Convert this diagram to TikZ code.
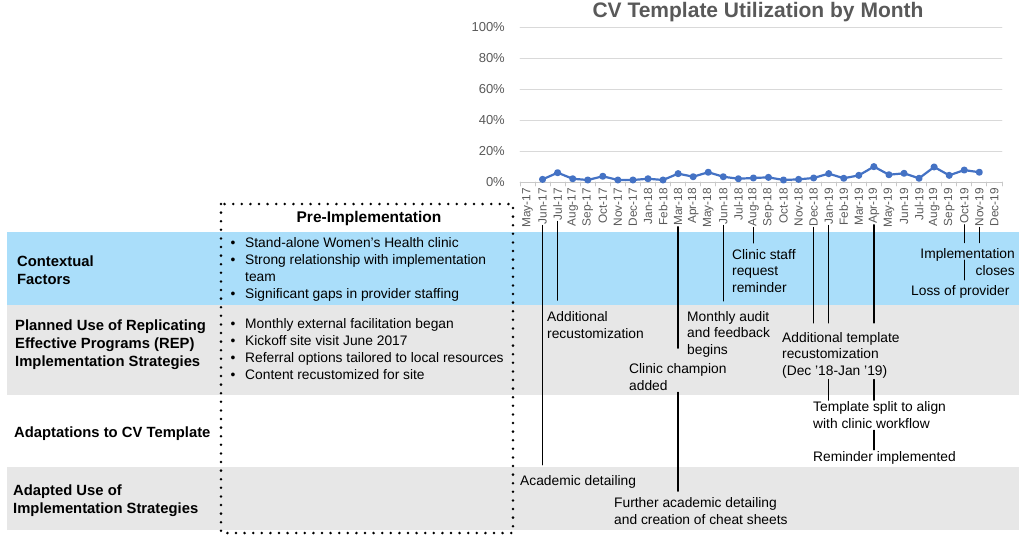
\documentclass[tikz,border=0pt]{standalone}
\usepackage{fontspec}
\setmainfont{Liberation Sans}
\usetikzlibrary{positioning}
\definecolor{bandblue}{RGB}{170,222,250}
\definecolor{bandgray}{RGB}{231,231,231}
\definecolor{axisgray}{RGB}{89,89,89}
\definecolor{gridgray}{RGB}{217,217,217}
\definecolor{tickgray}{RGB}{200,200,200}
\definecolor{lineblue}{RGB}{68,114,196}
\newcommand{\notefont}{\fontsize{13.8}{16.7}\selectfont}
\newcommand{\rowfont}{\fontsize{14.8}{17.9}\selectfont\bfseries}

\begin{document}
\begin{tikzpicture}[x=1pt,y=-1pt,line cap=round,line join=round,
	rowlbl/.style={anchor=base west,align=left,inner sep=0pt,font=\rowfont},
	note/.style={anchor=base west,align=left,inner sep=1pt,font=\notefont},
	bullets/.style={anchor=base west,align=left,inner sep=0pt,font=\notefont},
	month/.style={rotate=90,anchor=east,inner sep=1pt,text=axisgray,font=\fontsize{11.8}{12}\selectfont},
	pct/.style={anchor=east,inner sep=0pt,text=axisgray,font=\fontsize{13}{14}\selectfont},
	leader/.style={line width=1.3pt},
	dotbox/.style={line width=2.8pt,dash pattern=on 0pt off 8.6pt,line cap=round}]
		\useasboundingbox (0,0) rectangle (1021,539);
		%%%%%%%%%%%%%%% B A N D S %%%%%%%%%%%%%%%%
		\fill [bandblue] (7,232) rectangle (1019,305);
		\fill [bandgray] (7,305) rectangle (1019,395);
		\fill [bandgray] (7,467) rectangle (1019,530);
		%%%%%%%%%%%%%%% C H A R T %%%%%%%%%%%%%%%%
		\node [font=\fontsize{21}{24}\selectfont\bfseries,text=axisgray] (title) at (758,12) {CV Template Utilization by Month};
		%grid and axis
		\foreach \p in {20,40,60,80,100}
			\draw [gridgray,line width=0.8pt] (520,{182-1.55*\p}) -- (1002,{182-1.55*\p});
		\foreach \p in {0,20,40,60,80,100}
			\node [pct] (p\p) at (505,{182-1.55*\p}) {\p\%};
		\draw [tickgray,line width=0.9pt] (520,182) -- (1002,182);
		\foreach \k in {0,...,32}
			\draw [tickgray,line width=0.8pt] ({520+15.06*\k},182) -- ++(0,4);
		%months
		\foreach \mon [count=\i from 0] in {May-17,Jun-17,Jul-17,Aug-17,Sep-17,Oct-17,Nov-17,Dec-17,
			Jan-18,Feb-18,Mar-18,Apr-18,May-18,Jun-18,Jul-18,Aug-18,Sep-18,Oct-18,Nov-18,Dec-18,
			Jan-19,Feb-19,Mar-19,Apr-19,May-19,Jun-19,Jul-19,Aug-19,Sep-19,Oct-19,Nov-19,Dec-19}
			\node [month] (m\i) at ({527.5+15.06*\i},187) {\mon};
		%utilization
		\begin{scope}[shift={(527.5,182)},x=15.06pt,y=1.55pt]
			\draw [lineblue,line width=2.2pt] plot [mark=*,mark size=2.4pt,mark options={fill=lineblue}] coordinates {
				(1,1.7) (2,6.0) (3,2.1) (4,1.3) (5,3.7) (6,1.3) (7,1.3) (8,2.1) (9,1.3) (10,5.4)
				(11,3.4) (12,6.3) (13,3.4) (14,2.1) (15,2.6) (16,3.0) (17,1.3) (18,1.7) (19,2.6) (20,5.4)
				(21,2.4) (22,4.3) (23,9.9) (24,4.7) (25,5.6) (26,2.4) (27,9.7) (28,4.3) (29,7.7) (30,6.3)};
		\end{scope}
		%%%%%%%%%%%%%%% R O W S %%%%%%%%%%%%%%%%
		%(base = last line)
		\node [rowlbl] (context) at (17,284) {Contextual\\Factors};
		\node [rowlbl] (planned) at (15,366) {Planned Use of Replicating\\Effective Programs (REP)\\Implementation Strategies};
		\node [rowlbl] (adapt) at (14,437) {Adaptations to CV Template};
		\node [rowlbl] (adapted) at (13,513) {Adapted Use of\\Implementation Strategies};
		%pre-implementation
		\draw [dotbox] (221,204) rectangle (513,533);
		\node [font=\fontsize{15.5}{18}\selectfont\bfseries] (preimpl) at (369,218) {Pre-Implementation};
		\node [bullets] (prectx) at (230.5,298) {\makebox[14.5pt][l]{\textbullet}Stand-alone Women’s Health clinic\\
			\makebox[14.5pt][l]{\textbullet}Strong relationship with implementation\\
			\hspace*{14.5pt}team\\
			\makebox[14.5pt][l]{\textbullet}Significant gaps in provider staffing};
		\node [bullets] (preplan) at (230.5,379) {\makebox[14.5pt][l]{\textbullet}Monthly external facilitation began\\
			\makebox[14.5pt][l]{\textbullet}Kickoff site visit June 2017\\
			\makebox[14.5pt][l]{\textbullet}Referral options tailored to local resources\\
			\makebox[14.5pt][l]{\textbullet}Content recustomized for site};
		%%%%%%%%%%%%%%% E V E N T S %%%%%%%%%%%%%%%%
		\node [note] (acad) at (519,485) {Academic detailing};
		\node [note] (addrecust) at (546,338) {Additional\\recustomization};
		\node [note] (champion) at (628,390) {Clinic champion\\added};
		\node [note] (further) at (613,524) {Further academic detailing\\and creation of cheat sheets};
		\node [note] (audit) at (686,354.5) {Monthly audit\\and feedback\\begins};
		\node [note] (staff) at (731,292.5) {Clinic staff\\request\\reminder};
		\node [note] (addtemp) at (781,375.5) {Additional template\\recustomization\\(Dec ’18-Jan ’19)};
		\node [note] (split) at (812,428) {Template split to align\\with clinic workflow};
		\node [note] (remind) at (812,461) {Reminder implemented};
		\node [note,anchor=base east,align=right] (implclose) at (1016,275.5) {Implementation\\closes};
		\node [note] (loss) at (910,295) {Loss of provider};
		\coordinate (implgap) at ([yshift=-12.6pt]implclose.north);
		%leaders
		\draw [leader,shorten >=9pt] (m1.west) -- (m1.west |- acad.north);
		\draw [leader,shorten >=10pt] (m2.west) -- (m2.west |- addrecust.north);
		\draw [leader,shorten >=14pt] (m10.west) -- (m10.west |- champion.north);
		\draw [leader,shorten <=1pt,shorten >=5pt] (m10.west |- champion.south) -- (m10.west |- further.north);
		\draw [leader,shorten >=9pt] (m13.west) -- (m13.west |- audit.north);
		\draw [leader,shorten >=5pt] (m15.west) -- (m15.west |- staff.north);
		\draw [leader,shorten >=8pt] (m19.west) -- (m19.west |- addtemp.north);
		\draw [leader,shorten >=8pt] (m20.west) -- (m20.west |- addtemp.north);
		\draw [leader,shorten >=8pt] (m23.west) -- (m23.west |- addtemp.north);
		\draw [leader] (m20.west |- addtemp.south) -- (m20.west |- split.north);
		\draw [leader] (m23.west |- addtemp.south) -- (m23.west |- split.north);
		\draw [leader,shorten <=1pt] (m23.west |- split.south) -- (m23.west |- remind.north);
		\draw [leader,shorten >=5pt] (m29.west) -- (m29.west |- implclose.north);
		\draw [leader,shorten >=5pt] (m30.west) -- (m30.west |- implclose.north);
		\draw [leader,shorten >=4pt] (m29.west |- implgap) -- (m29.west |- loss.north);
	\end{tikzpicture}
\end{document}
